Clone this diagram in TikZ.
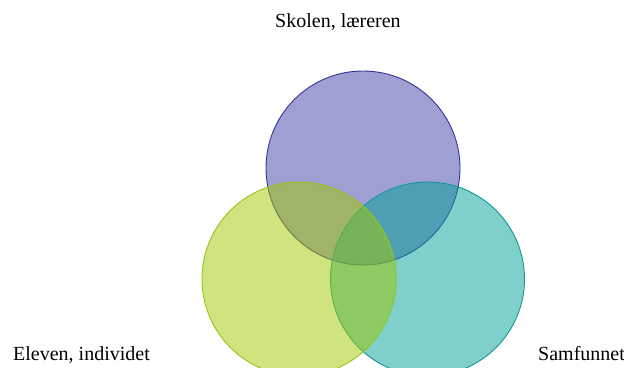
\documentclass[tikz,border=0pt]{standalone}
\usepackage{fontspec}
\setmainfont{Liberation Serif}
\definecolor{topfill}{RGB}{64,64,170}
\definecolor{topline}{RGB}{52,52,150}
\definecolor{leftfill}{RGB}{160,200,0}
\definecolor{leftline}{RGB}{150,198,20}
\definecolor{rightfill}{RGB}{0,160,150}
\definecolor{rightline}{RGB}{20,150,150}
\begin{document}
\begin{tikzpicture}[x=1pt,y=-1pt,
  venn/.style={circle, minimum size=194pt, inner sep=0pt, line width=0.9pt, fill opacity=0.5},
  lbl/.style={anchor=base west, inner sep=0pt, font=\fontsize{20}{24}\selectfont, text=black}]
\clip (0,0) rectangle (624,367);
\useasboundingbox (0,0) rectangle (624,367);
\node[venn, draw=topline, fill=topfill] (top) at (363,168) {};
\node[venn, draw=rightline, fill=rightfill] (right) at (427.5,279) {};
\node[venn, draw=leftline, fill=leftfill] (left) at (299,279) {};
\node[lbl] (ltop) at (275,27) {Skolen, læreren};
\node[lbl] (lleft) at (13,360) {Eleven, individet};
\node[lbl] (lright) at (538,360) {Samfunnet};
\end{tikzpicture}
\end{document}
